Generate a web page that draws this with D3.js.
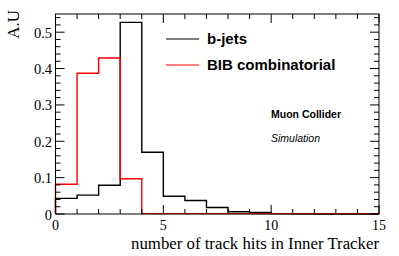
<!DOCTYPE html>
<html>
<head>
<meta charset="utf-8">
<script src="https://cdn.jsdelivr.net/npm/d3@7"></script>
<style>
  body { margin: 0; background: #fff; }
  text { font-family: "Liberation Serif", "Times New Roman", serif; }
</style>
</head>
<body>
<div id="chart"></div>
<script>
const width = 399, height = 256;

// bin lower edges (number of hits), one bin per unit
const bins = d3.range(0, 15);
const bjets = [0.043, 0.052, 0.079, 0.527, 0.170, 0.049, 0.037, 0.018, 0.006, 0.004, 0.001, 0.0005, 0, 0, 0];
const bib = [0.082, 0.387, 0.429, 0.097, 0.001, 0.001, 0.001, 0.001, 0.001, 0.001, 0.001, 0.001, 0.001, 0.001, 0.001];
const xTicks = [0, 5, 10, 15];
const yTicks = [0, 0.1, 0.2, 0.3, 0.4, 0.5];

const margin = { left: 55.5, right: 20, top: 14, bottom: 42 };

const svg = d3.select('#chart').append('svg')
  .attr('width', width).attr('height', height);

const x = d3.scaleLinear().domain([0, 15]).range([margin.left, width - margin.right]);
const y = d3.scaleLinear().domain([0, 0.55]).range([height - margin.bottom, margin.top]);

// Step path for a histogram
const histPath = (vals) => {
  let d = `M${x(0)},${y(0)}`;
  vals.forEach((v, i) => {
    d += ` L${x(bins[i])},${y(v)} L${x(bins[i] + 1)},${y(v)}`;
  });
  d += ` L${x(15)},${y(0)}`;
  return d;
};

svg.append('path')
  .attr('d', histPath(bjets))
  .attr('fill', 'none')
  .attr('stroke', '#000')
  .attr('stroke-width', 1.4);

svg.append('path')
  .attr('d', histPath(bib))
  .attr('fill', 'none')
  .attr('stroke', '#ff0000')
  .attr('stroke-width', 1.4);

// Frame
svg.append('rect')
  .attr('x', x(0)).attr('y', y(0.55))
  .attr('width', x(15) - x(0)).attr('height', y(0) - y(0.55))
  .attr('fill', 'none').attr('stroke', '#000').attr('stroke-width', 1);

// Ticks (ROOT style: inside, on all four sides)
const g = svg.append('g').attr('stroke', '#000').attr('stroke-width', 1);
d3.range(0, 16).forEach((t) => {
  const len = t % 5 === 0 ? 9 : 5;
  g.append('line').attr('x1', x(t)).attr('x2', x(t)).attr('y1', y(0)).attr('y2', y(0) - len);
  g.append('line').attr('x1', x(t)).attr('x2', x(t)).attr('y1', y(0.55)).attr('y2', y(0.55) + len);
});
d3.range(0, 28).forEach((i) => {
  const t = i * 0.02;
  const len = i % 5 === 0 ? 9 : 5;
  g.append('line').attr('y1', y(t)).attr('y2', y(t)).attr('x1', x(0)).attr('x2', x(0) + len);
  g.append('line').attr('y1', y(t)).attr('y2', y(t)).attr('x1', x(15)).attr('x2', x(15) - len);
});

// Tick labels
svg.selectAll('.xl').data(xTicks).enter().append('text')
  .attr('x', (d) => x(d)).attr('y', y(0) + 15.5)
  .attr('text-anchor', 'middle').style('font-size', '14px')
  .text((d) => d);

svg.selectAll('.yl').data(yTicks).enter().append('text')
  .attr('x', x(0) - 3.5).attr('y', (d) => y(d) + 5.5)
  .attr('text-anchor', 'end').style('font-size', '14.5px')
  .text((d) => d);

// Axis titles
svg.append('text')
  .attr('x', x(15)).attr('y', 249)
  .attr('text-anchor', 'end').style('font-size', '16.8px')
  .text('number of track hits in Inner Tracker');

svg.append('text')
  .attr('transform', 'translate(18.5,10) rotate(-90)')
  .attr('text-anchor', 'end').style('font-size', '17px')
  .text('A.U');

// Legend
const legend = [
  { name: 'b-jets', color: '#000', y: 39 },
  { name: 'BIB combinatorial', color: '#ff0000', y: 65 },
];
legend.forEach((l) => {
  svg.append('line')
    .attr('x1', 166).attr('x2', 199).attr('y1', l.y).attr('y2', l.y)
    .attr('stroke', l.color).attr('stroke-width', 1.2);
  svg.append('text')
    .attr('x', 207).attr('y', l.y + 5.3)
    .style('font-family', '"Liberation Sans", Arial, sans-serif')
    .style('font-weight', 'bold').style('font-size', '15px')
    .text(l.name);
});

svg.append('text')
  .attr('x', 271).attr('y', 118)
  .style('font-family', '"Liberation Sans", Arial, sans-serif')
  .style('font-weight', 'bold').style('font-size', '10.5px')
  .text('Muon Collider');

svg.append('text')
  .attr('x', 271).attr('y', 142)
  .style('font-family', '"Liberation Sans", Arial, sans-serif')
  .style('font-style', 'italic').style('font-size', '10.5px')
  .text('Simulation');
</script>
</body>
</html>
